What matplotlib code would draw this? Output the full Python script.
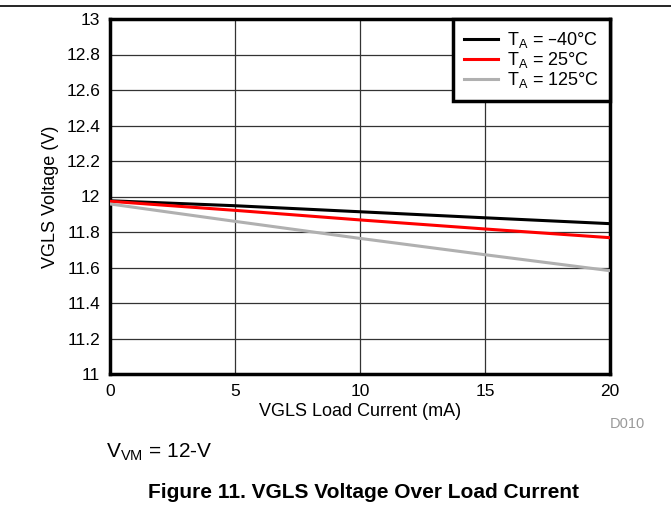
import matplotlib.pyplot as plt
from matplotlib.lines import Line2D

plt.rcParams["font.family"] = ["Liberation Sans", "DejaVu Sans"]

# load current (mA) and VGLS voltage (V)
current = [0, 5, 10, 15, 20]
v_minus40 = [11.976, 11.948, 11.914, 11.880, 11.847]
v_25 = [11.973, 11.922, 11.868, 11.817, 11.768]
v_125 = [11.958, 11.860, 11.764, 11.672, 11.582]

series = [
    (v_minus40, "#000000", "T$_\\mathregular{A}$ = \u201340\u00b0C"),
    (v_25, "#ff0000", "T$_\\mathregular{A}$ = 25\u00b0C"),
    (v_125, "#b0b0b0", "T$_\\mathregular{A}$ = 125\u00b0C"),
]

x_ticks = [0, 5, 10, 15, 20]
y_ticks = [11, 11.2, 11.4, 11.6, 11.8, 12, 12.2, 12.4, 12.6, 12.8, 13]
y_tick_labels = ["11", "11.2", "11.4", "11.6", "11.8", "12", "12.2", "12.4", "12.6", "12.8", "13"]

fig = plt.figure(figsize=(6.71, 5.08), dpi=100)
ax = fig.add_axes([110 / 671, 1 - 374 / 508, 500 / 671, 355 / 508])

for values, color, label in series:
    ax.plot(current, values, color=color, linewidth=2.2, label=label, zorder=3)

ax.set_xlim(0, 20)
ax.set_ylim(11, 13)
ax.set_xticks(x_ticks)
ax.set_yticks(y_ticks)
ax.set_yticklabels(y_tick_labels)
ax.tick_params(length=0, labelsize=12.5, pad=7)
ax.grid(True, color="#333333", linewidth=0.9)
ax.set_axisbelow(True)
for spine in ax.spines.values():
    spine.set_linewidth(2.5)

ax.set_xlabel("VGLS Load Current (mA)", fontsize=13, labelpad=3)
ax.set_ylabel("VGLS Voltage (V)", fontsize=13, labelpad=5)

leg = ax.legend(
    loc="upper right",
    bbox_to_anchor=(1.0, 1.0),
    fontsize=13,
    fancybox=False,
    framealpha=1,
    edgecolor="black",
    handlelength=1.9,
    handletextpad=0.5,
    labelspacing=0.0,
    borderpad=0.6,
    borderaxespad=0,
)
leg.get_frame().set_linewidth(2.5)
leg.set_zorder(5)

fig.add_artist(Line2D([0, 1], [1 - 6 / 508, 1 - 6 / 508], color="black", linewidth=1.2))
fig.text(627 / 671, 1 - 424 / 508, "D010", color="#999999", fontsize=10.5, ha="center", va="center")
fig.text(106 / 671, 1 - 452 / 508, "V$_\\mathregular{VM}$ = 12-V", fontsize=15, ha="left", va="center")
fig.text(364 / 671, 1 - 493 / 508, "Figure 11. VGLS Voltage Over Load Current",
         fontsize=15, fontweight="bold", ha="center", va="center")

fig.savefig("out.png", dpi=100)
